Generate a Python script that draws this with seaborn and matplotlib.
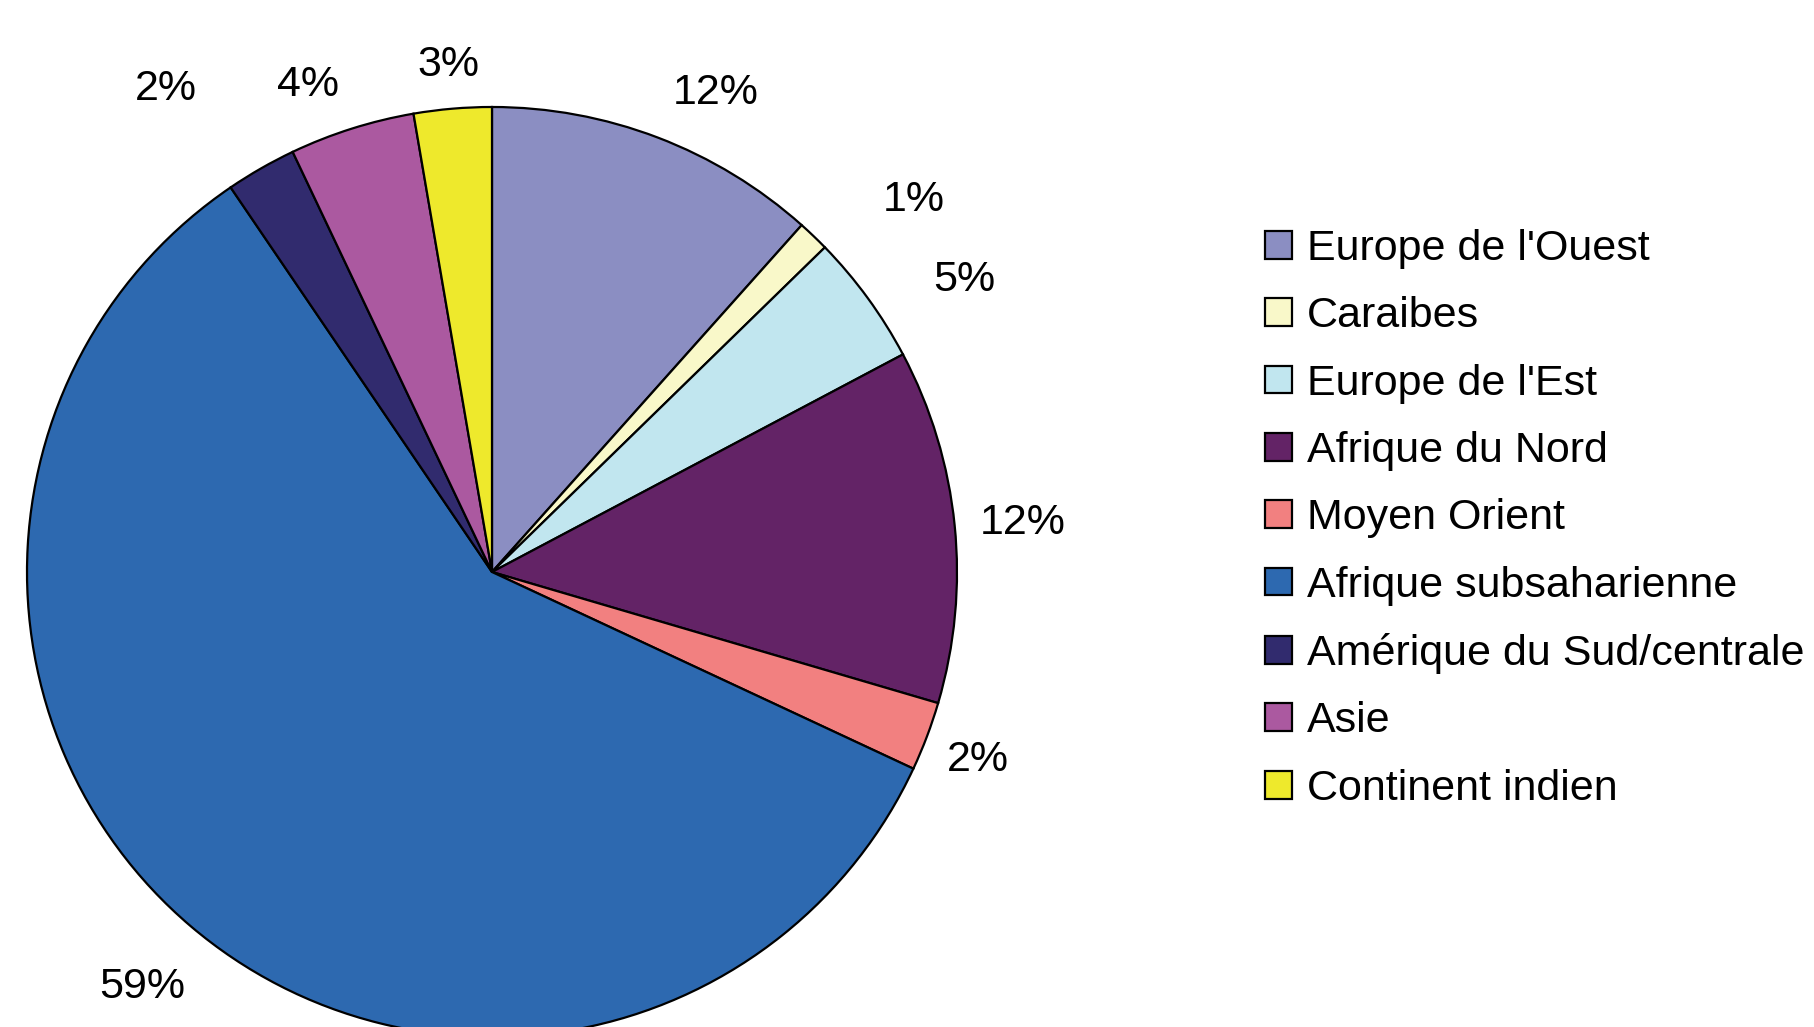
import matplotlib
matplotlib.use("Agg")
import matplotlib.pyplot as plt
import matplotlib.patches as mpatches
import numpy as np
import seaborn as sns

# Regions and their share of the total (%)
regions = ["Europe de l'Ouest", "Caraibes", "Europe de l'Est", "Afrique du Nord",
           "Moyen Orient", "Afrique subsaharienne", "Amérique du Sud/centrale",
           "Asie", "Continent indien"]
shares = [11.6, 1.1, 4.55, 12.3, 2.4, 58.55, 2.45, 4.35, 2.7]

colors = ["#8B8EC2", "#F9F8C9", "#C1E6EF", "#632366", "#F28080",
          "#2D69B0", "#312B6E", "#AB59A0", "#EEE92C"]

# label placement tweaks (radius factor, angle nudge in degrees)
label_dist = [1.145, 1.215, 1.20, 1.146, 1.118, 1.16, 1.26, 1.127, 1.104]
label_nudge = [-4, -4.5, -4, 0, 0, 0, 4, 3, 0]

sns.set_style("white")
plt.rcParams['font.family'] = ['Liberation Sans', 'DejaVu Sans']
plt.rcParams['text.color'] = 'black'

fig = plt.figure(figsize=(18.15, 10.27), dpi=100)
ax = fig.add_axes([27 / 1815, -10 / 1027, 930 / 1815, 930 / 1027])

wedges, texts, autotexts = ax.pie(
    shares, colors=colors, startangle=90, counterclock=False,
    autopct='%.0f%%', pctdistance=1.15,
    wedgeprops=dict(edgecolor='black', linewidth=1.6),
    textprops=dict(fontsize=31, color='black'))

for w, t, d, n in zip(wedges, autotexts, label_dist, label_nudge):
    ang = np.deg2rad((w.theta1 + w.theta2) / 2 + n)
    # small downward shift so the digits, not the descender box, sit centred
    t.set_position((d * np.cos(ang), d * np.sin(ang) - 0.009))
    t.set_ha('center')
    t.set_va('center')

ax.set_xlim(-1, 1)
ax.set_ylim(-1, 1)
ax.set_aspect('equal')
ax.axis('off')

handles = [mpatches.Patch(facecolor=c, edgecolor='black', linewidth=1.6) for c in colors]
fig.legend(handles, regions, loc='upper left', bbox_to_anchor=(1265 / 1815, 1 - 229 / 1027),
           frameon=False, fontsize=31, borderpad=0, borderaxespad=0, labelcolor='black',
           handlelength=0.62, handleheight=0.62, handletextpad=0.35, labelspacing=0.635)

fig.savefig("out.png", dpi=100)
